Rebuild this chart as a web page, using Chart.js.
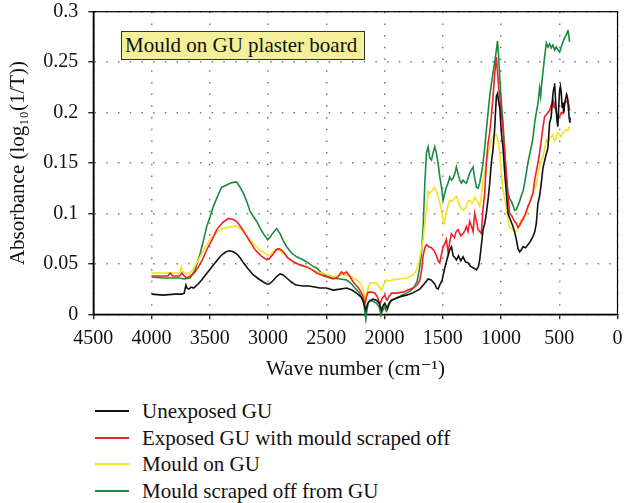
<!DOCTYPE html>
<html>
<head>
<meta charset="utf-8">
<script src="https://cdn.jsdelivr.net/npm/chart.js@4/dist/chart.umd.min.js"></script>
<style>
  body { margin:0; background:#fff; font-family:"Liberation Serif", serif; }
  #wrap { position:relative; width:624px; height:390px; }
  #tbox { position:absolute; left:121px; top:31px; width:239px; height:27px; background:#f4f09a;
          border:1.5px solid #333; font-size:21px; line-height:27px; padding-left:3px; color:#111; white-space:nowrap; }
  #legend { position:absolute; left:0; top:398px; width:624px; }
  .row { position:relative; height:26.5px; }
  .sw { position:absolute; left:95px; top:12px; width:34px; height:2px; }
  .tx { position:absolute; left:142px; top:0; font-size:21px; line-height:26px; color:#111; white-space:nowrap; }
</style>
</head>
<body>
<div id="wrap">
  <canvas id="c" width="624" height="390"></canvas>
  <div id="tbox">Mould on GU plaster board</div>
</div>
<div id="legend"></div>
<script>
const seriesLabels = ["Unexposed GU", "Exposed GU with mould scraped off", "Mould on GU", "Mould scraped off from GU"];
const seriesColors = ["#111111", "#f0202a", "#f2e31b", "#1b8a3f"];
const xTicks = [4500, 4000, 3500, 3000, 2500, 2000, 1500, 1000, 500, 0];
const yTicks = [0, 0.05, 0.1, 0.15, 0.2, 0.25, 0.3];

const wnUnexposed = [4000,3900,3800,3740,3720,3705,3695,3680,3660,3640,
  3620,3600,3570,3530,3483,3440,3397,3360,3330,3300,
  3270,3240,3211,3170,3126,3080,3040,3010,2990,2960,
  2930,2897,2870,2840,2800,2760,2700,2650,2600,2554,
  2500,2440,2380,2326,2280,2240,2200,2183,2168,2160,
  2150,2140,2100,2069,2045,2026,2010,1997,1985,1977,
  1960,1940,1900,1850,1811,1760,1697,1660,1626,1600,
  1569,1554,1540,1526,1505,1483,1460,1440,1425,1411,
  1395,1383,1365,1345,1326,1305,1283,1265,1254,1235,
  1211,1195,1183,1170,1154,1140,1126,1110,1097,1083,
  1069,1055,1040,1030,1020,1011,997,983,968,954,
  940,920,897,880,868,854,840,825,811,790,
  769,750,726,710,697,683,669,654,640,620,
  597,583,570,554,545,540,533,525,518,512,
  505,497,490,483,475,468,460,454,445,437,
  431,422,415,408];
const absUnexposed = [0.020,0.019,0.020,0.020,0.021,0.029,0.026,0.025,0.027,0.026,
  0.028,0.030,0.034,0.040,0.047,0.053,0.059,0.062,0.063,0.062,
  0.060,0.056,0.051,0.045,0.039,0.035,0.032,0.030,0.030,0.033,
  0.037,0.040,0.039,0.036,0.032,0.029,0.028,0.028,0.027,0.026,
  0.026,0.024,0.025,0.026,0.024,0.021,0.017,0.013,0.007,0.004,
  0.009,0.012,0.015,0.014,0.011,0.004,0.009,0.011,0.008,0.006,
  0.011,0.014,0.016,0.018,0.019,0.021,0.025,0.030,0.035,0.034,
  0.030,0.026,0.025,0.029,0.034,0.046,0.056,0.064,0.067,0.058,
  0.056,0.054,0.058,0.053,0.057,0.052,0.051,0.048,0.047,0.046,
  0.044,0.047,0.054,0.067,0.084,0.090,0.100,0.115,0.130,0.150,
  0.163,0.183,0.216,0.219,0.210,0.205,0.180,0.165,0.140,0.120,
  0.100,0.094,0.087,0.080,0.074,0.065,0.062,0.064,0.067,0.066,
  0.069,0.072,0.077,0.082,0.090,0.110,0.117,0.130,0.145,0.155,
  0.165,0.190,0.195,0.219,0.225,0.229,0.215,0.200,0.190,0.186,
  0.205,0.222,0.226,0.220,0.205,0.210,0.200,0.209,0.214,0.218,
  0.216,0.205,0.195,0.190];

const wnExposed = [4000,3900,3860,3840,3820,3760,3740,3720,3700,3669,
  3640,3597,3560,3526,3480,3440,3390,3340,3300,3269,
  3230,3197,3150,3111,3060,3011,2990,2954,2930,2911,
  2890,2869,2830,2783,2726,2668,2620,2583,2520,2440,
  2400,2370,2350,2326,2300,2269,2230,2211,2185,2169,
  2155,2140,2110,2083,2060,2040,2020,1997,1985,1977,
  1960,1940,1900,1840,1800,1754,1720,1697,1680,1669,
  1654,1640,1620,1597,1575,1554,1540,1526,1510,1497,
  1483,1469,1454,1440,1426,1400,1385,1369,1345,1326,
  1310,1297,1283,1269,1250,1240,1226,1210,1197,1183,
  1169,1154,1140,1126,1111,1097,1083,1069,1054,1040,
  1030,1020,1011,997,983,968,954,940,926,910,
  897,883,868,854,840,825,811,790,769,750,
  726,711,697,683,669,654,640,626,610,597,
  583,570,554,545,540,525,512,497,483,469,
  454,440,426,418,411];
const absExposed = [0.038,0.038,0.038,0.041,0.038,0.038,0.041,0.038,0.036,0.038,
  0.040,0.047,0.055,0.064,0.074,0.084,0.091,0.095,0.094,0.092,
  0.086,0.080,0.071,0.064,0.058,0.054,0.055,0.060,0.064,0.065,
  0.064,0.062,0.056,0.052,0.049,0.047,0.044,0.041,0.038,0.035,
  0.037,0.042,0.040,0.042,0.038,0.032,0.027,0.024,0.018,0.010,
  0.018,0.022,0.022,0.021,0.017,0.010,0.016,0.019,0.015,0.014,
  0.018,0.021,0.021,0.022,0.024,0.026,0.029,0.034,0.045,0.058,
  0.066,0.069,0.067,0.066,0.063,0.058,0.053,0.051,0.060,0.067,
  0.070,0.074,0.061,0.072,0.080,0.076,0.082,0.084,0.078,0.080,
  0.083,0.087,0.082,0.092,0.086,0.082,0.100,0.092,0.084,0.082,
  0.080,0.105,0.120,0.150,0.170,0.180,0.196,0.215,0.239,0.255,
  0.240,0.225,0.216,0.200,0.183,0.160,0.140,0.118,0.100,0.098,
  0.095,0.092,0.090,0.086,0.088,0.092,0.094,0.100,0.107,0.112,
  0.120,0.133,0.142,0.150,0.160,0.173,0.185,0.196,0.198,0.200,
  0.202,0.207,0.212,0.205,0.207,0.200,0.196,0.196,0.200,0.199,
  0.209,0.211,0.212,0.208,0.202];

const wnMould = [4000,3900,3800,3760,3745,3735,3720,3700,3669,3630,
  3583,3540,3497,3450,3411,3350,3283,3250,3211,3170,
  3126,3070,3011,2980,2940,2910,2869,2830,2783,2726,
  2668,2600,2540,2480,2440,2380,2326,2280,2240,2200,
  2183,2168,2160,2150,2126,2100,2069,2045,2026,2005,
  1983,1960,1930,1880,1811,1754,1730,1711,1690,1669,
  1655,1640,1625,1611,1590,1569,1555,1540,1525,1511,
  1500,1489,1469,1455,1440,1420,1400,1383,1368,1354,
  1340,1326,1300,1283,1269,1250,1240,1225,1211,1195,
  1183,1168,1154,1140,1126,1111,1097,1083,1069,1054,
  1040,1026,1011,997,983,968,954,940,926,910,
  897,883,868,854,840,825,811,783,760,740,
  720,697,683,660,640,625,611,597,583,570,
  554,540,525,512,497,483,469,454,440,426,
  418,411];
const absMould = [0.041,0.041,0.041,0.041,0.047,0.043,0.041,0.040,0.041,0.047,
  0.057,0.066,0.074,0.080,0.084,0.086,0.0875,0.086,0.082,0.076,
  0.070,0.064,0.059,0.059,0.064,0.064,0.060,0.056,0.052,0.049,
  0.047,0.043,0.041,0.039,0.037,0.039,0.039,0.037,0.034,0.030,
  0.024,0.016,0.014,0.022,0.031,0.031,0.031,0.027,0.024,0.030,
  0.034,0.033,0.034,0.035,0.036,0.039,0.043,0.049,0.060,0.074,
  0.090,0.103,0.122,0.120,0.123,0.126,0.122,0.117,0.110,0.103,
  0.095,0.090,0.100,0.108,0.113,0.112,0.115,0.117,0.112,0.107,
  0.105,0.103,0.106,0.112,0.113,0.110,0.112,0.116,0.113,0.110,
  0.107,0.118,0.133,0.140,0.150,0.160,0.165,0.173,0.176,0.177,
  0.178,0.173,0.160,0.140,0.123,0.115,0.105,0.093,0.086,0.085,
  0.084,0.083,0.082,0.085,0.089,0.094,0.096,0.100,0.108,0.117,
  0.122,0.128,0.140,0.150,0.156,0.165,0.173,0.170,0.175,0.176,
  0.178,0.172,0.176,0.180,0.178,0.176,0.180,0.181,0.183,0.182,
  0.185,0.186];

const wnScraped = [4000,3900,3811,3760,3720,3669,3626,3583,3555,3526,
  3497,3469,3430,3397,3360,3326,3290,3269,3240,3211,
  3180,3154,3126,3097,3070,3040,3003,2985,2968,2940,
  2926,2910,2897,2870,2840,2800,2754,2700,2668,2620,
  2583,2540,2500,2440,2380,2326,2290,2254,2220,2197,
  2180,2168,2160,2150,2140,2126,2100,2069,2045,2030,
  2020,1997,1985,1977,1960,1940,1900,1850,1811,1770,
  1740,1720,1700,1683,1669,1654,1640,1626,1612,1597,
  1583,1569,1555,1540,1525,1511,1497,1483,1469,1455,
  1440,1426,1411,1395,1383,1370,1354,1340,1326,1311,
  1297,1283,1269,1255,1240,1226,1211,1197,1183,1168,
  1154,1140,1126,1111,1097,1083,1069,1054,1040,1030,
  1020,1011,997,983,968,954,940,926,911,897,
  883,868,854,840,825,811,797,783,769,755,
  740,726,711,697,683,669,660,654,640,626,
  611,597,583,569,554,540,525,512,497,483,
  469,454,440,430,426,418,411];
const absScraped = [0.037,0.036,0.036,0.036,0.035,0.036,0.044,0.060,0.073,0.087,
  0.097,0.107,0.118,0.126,0.128,0.130,0.131,0.131,0.126,0.120,
  0.111,0.102,0.097,0.092,0.086,0.080,0.074,0.076,0.079,0.083,
  0.085,0.082,0.080,0.073,0.067,0.061,0.057,0.054,0.052,0.048,
  0.046,0.041,0.038,0.036,0.035,0.034,0.031,0.026,0.022,0.017,
  0.012,0.002,-0.005,0.005,0.011,0.014,0.013,0.011,0.007,-0.001,
  0.003,0.0075,0.003,0.004,0.010,0.014,0.016,0.019,0.021,0.024,
  0.028,0.033,0.045,0.060,0.085,0.130,0.160,0.166,0.155,0.153,
  0.160,0.166,0.160,0.150,0.136,0.126,0.113,0.120,0.126,0.130,
  0.136,0.133,0.135,0.140,0.146,0.140,0.133,0.130,0.133,0.131,
  0.130,0.135,0.140,0.143,0.146,0.135,0.126,0.125,0.130,0.140,
  0.150,0.165,0.183,0.200,0.216,0.228,0.239,0.250,0.262,0.271,
  0.255,0.235,0.210,0.190,0.160,0.135,0.120,0.115,0.112,0.108,
  0.103,0.104,0.108,0.112,0.118,0.122,0.130,0.140,0.150,0.158,
  0.166,0.175,0.190,0.200,0.209,0.224,0.216,0.225,0.240,0.255,
  0.269,0.265,0.268,0.264,0.267,0.262,0.265,0.262,0.260,0.265,
  0.270,0.274,0.277,0.280,0.282,0.276,0.270];

const xs = [wnUnexposed, wnExposed, wnMould, wnScraped];
const ys = [absUnexposed, absExposed, absMould, absScraped];

const FONT = "'Liberation Serif', 'DejaVu Serif', serif";

const frame = {
  id: 'frame',
  beforeDatasetsDraw(chart) {
    const a = chart.chartArea, ctx = chart.ctx;
    ctx.save();
    ctx.strokeStyle = '#000';
    ctx.lineWidth = 1.2;
    ctx.strokeRect(a.left, a.top, a.right - a.left, a.bottom - a.top);
    ctx.restore();
  }
};

const chart = new Chart(document.getElementById('c'), {
  type: 'line',
  data: {
    datasets: seriesLabels.map((lab, k) => ({
      label: lab,
      data: xs[k].map((w, i) => ({ x: w, y: ys[k][i] })),
      borderColor: seriesColors[k],
      backgroundColor: seriesColors[k],
      borderWidth: 1.6,
      pointRadius: 0,
      tension: 0,
      fill: false,
      clip: 10
    }))
  },
  options: {
    responsive: false,
    animation: false,
    devicePixelRatio: 1,
    layout: { padding: { left: 0, top: 11.7, right: 6.5, bottom: 0 } },
    plugins: { legend: { display: false }, tooltip: { enabled: false } },
    scales: {
      x: {
        type: 'linear', reverse: true, min: 0, max: 4500,
        afterBuildTicks: s => { s.ticks = xTicks.map(v => ({ value: v })); },
        afterFit: s => { s.height = 75.7; s.paddingLeft = 0; s.paddingRight = 0; },
        ticks: { color: '#111', font: { family: FONT, size: 20 }, padding: 7, maxRotation: 0,
                 callback: v => String(v) },
        grid: { color: '#7a7a7a', lineWidth: 1.5, tickLength: 5, tickColor: '#000', tickWidth: 1.2, tickBorderDash: [] },
        border: { color: '#000', width: 1.6, dash: [1.5, 10.2] },
        title: { display: true, text: 'Wave number (cm\u207B\u00B9)', color: '#111',
                 font: { family: FONT, size: 21 }, padding: { top: 0, bottom: 8 } }
      },
      y: {
        type: 'linear', min: 0, max: 0.3,
        afterBuildTicks: s => { s.ticks = yTicks.map(v => ({ value: v })); },
        afterFit: s => { s.width = 93.3; s.paddingTop = 0; s.paddingBottom = 0; },
        ticks: { color: '#111', font: { family: FONT, size: 20 }, padding: 10,
                 callback: v => String(+Number(v).toFixed(2)) },
        grid: { color: '#7a7a7a', lineWidth: 1.5, tickLength: 5, tickColor: '#000', tickWidth: 1.2, tickBorderDash: [] },
        border: { color: '#000', width: 1.6, dash: [1.5, 10.2] },
        title: { display: true, text: 'Absorbance (log\u2081\u2080(1/T))', color: '#111',
                 font: { family: FONT, size: 21 }, padding: { top: 6, bottom: 0 } }
      }
    }
  },
  plugins: [frame]
});

const leg = document.getElementById('legend');
chart.data.datasets.forEach(ds => {
  const row = document.createElement('div');
  row.className = 'row';
  const sw = document.createElement('span');
  sw.className = 'sw';
  sw.style.background = ds.borderColor;
  const tx = document.createElement('span');
  tx.className = 'tx';
  tx.textContent = ds.label;
  row.appendChild(sw); row.appendChild(tx);
  leg.appendChild(row);
});
</script>
</body>
</html>
